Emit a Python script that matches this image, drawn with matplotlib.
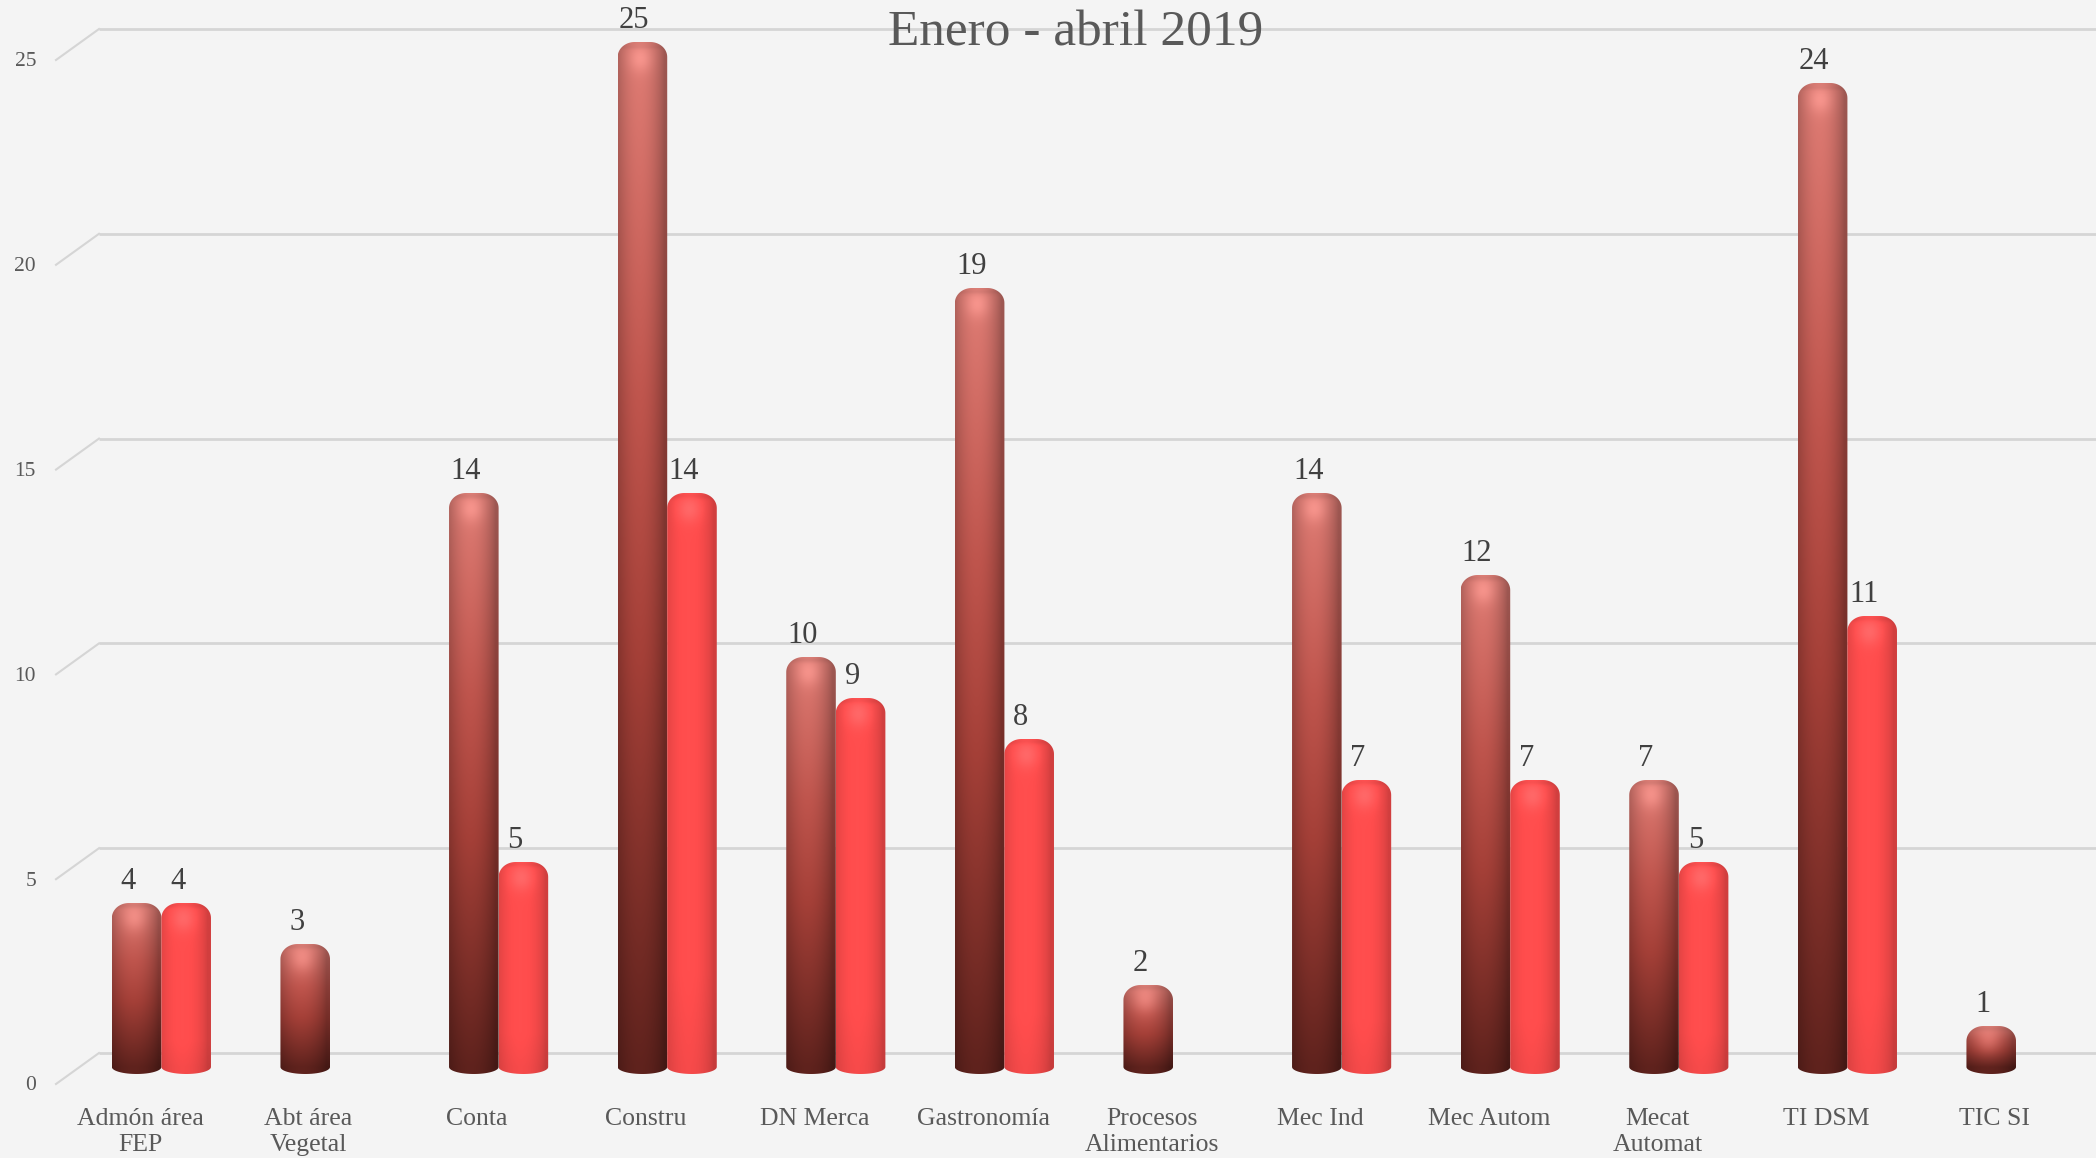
import numpy as np
import matplotlib
matplotlib.use("Agg")
import matplotlib.pyplot as plt
from matplotlib.path import Path
from matplotlib.patches import PathPatch

# ---------------- data ----------------
categories = ["Admón área\nFEP", "Abt área\nVegetal", "Conta", "Constru", "DN Merca",
              "Gastronomía", "Procesos\nAlimentarios", "Mec Ind", "Mec Autom",
              "Mecat\nAutomat", "TI DSM", "TIC SI"]
serie_1 = [4, 3, 14, 25, 10, 19, 2, 14, 12, 7, 24, 1]
serie_2 = [4, None, 5, 14, 9, 8, None, 7, 7, 5, 11, None]
y_ticks = [0, 5, 10, 15, 20, 25]
title = "Enero - abril 2019"

# ---------------- style ----------------
W, H, DPI = 2096, 1158, 100
FONT = "Liberation Serif"
BG = "#f4f4f4"
GRID = "#d5d5d5"
TXT = "#595959"
VAL = "#404040"

PX_X = 168.6      # pixels per category
PX_Y = 41.0       # pixels per unit (bars)
X0_PX = 140       # pixel x of first category
Y0_PX = 1067      # pixel y of bar zero level
BAR_W = 0.294

fig = plt.figure(figsize=(W / DPI, H / DPI), dpi=DPI)
fig.patch.set_facecolor(BG)

# ---------- back wall (gridlines) ----------
bg_l, bg_r, bg_t, bg_b = 99, W, 29, 1053
ax_bg = fig.add_axes([bg_l / W, 1 - bg_b / H, (bg_r - bg_l) / W, (bg_b - bg_t) / H])
ax_bg.set_xlim(0, 1)
ax_bg.set_ylim(0, 25)
ax_bg.axis("off")
gpx = (bg_b - bg_t) / 25.0
ax_w = bg_r - bg_l
for t in y_ticks:
    ax_bg.plot([0, 1], [t, t], color=GRID, lw=2.0, clip_on=False, solid_capstyle="butt")
    ax_bg.plot([-43 / ax_w, 0], [t - 31 / gpx, t], color=GRID, lw=1.5, clip_on=False)
    ax_bg.text(-63 / ax_w, t - 33 / gpx, str(t), ha="right", va="center",
               fontsize=15.5, color=TXT, family=FONT, clip_on=False)

# ---------- bars ----------
ax = fig.add_axes([0, 0, 1, 1])
ax.set_xlim(-X0_PX / PX_X, (W - X0_PX) / PX_X)
ax.set_ylim(-(H - Y0_PX) / PX_Y, Y0_PX / PX_Y)
ax.axis("off")
ax.patch.set_alpha(0)


def lerp_colors(stops, t):
    pos = np.array([s[0] for s in stops])
    cols = np.array([s[1] for s in stops])
    out = np.empty(t.shape + (3,))
    for c in range(3):
        out[..., c] = np.interp(t, pos, cols[:, c])
    return out


def cylinder(xc, w, h, kind):
    x0, x1 = xc - w / 2, xc + w / 2
    rx = min(17 / PX_X, w / 2)
    ry = min(15 / PX_Y, h / 2)
    eb = 7 / PX_Y
    verts = []
    for a in np.linspace(np.pi, 2 * np.pi, 30):
        verts.append((xc + (w / 2) * np.cos(a), eb * np.sin(a)))
    verts.append((x1, h - ry))
    for a in np.linspace(0, np.pi / 2, 20):
        verts.append((x1 - rx + rx * np.cos(a), h - ry + ry * np.sin(a)))
    for a in np.linspace(np.pi / 2, np.pi, 20):
        verts.append((x0 + rx + rx * np.cos(a), h - ry + ry * np.sin(a)))
    verts.append((x0, 0))
    verts.append(verts[0])
    path = Path(verts, closed=True)
    patch = PathPatch(path, facecolor="none", edgecolor="none")
    ax.add_patch(patch)

    nx, ny = 90, 300
    u = np.linspace(0, 1, nx)
    yy = np.linspace(h, -eb, ny)            # rows top -> bottom
    vf = np.clip(yy / h, 0, 1)[:, None] * np.ones((1, nx))
    theta = (u - 0.5) * np.pi
    c = np.clip(np.cos(theta + 0.22), 0, 1)
    if kind == 1:
        base = lerp_colors([(0.0, (0.36, 0.13, 0.11)),
                            (0.40, (0.62, 0.24, 0.21)),
                            (0.65, (0.72, 0.32, 0.29)),
                            (1.0, (0.84, 0.47, 0.44))], vf)
        shade = 0.74 + 0.30 * c ** 0.8
        img = base * shade[None, :, None]
    else:
        base = np.ones((ny, nx, 3)) * np.array([1.0, 0.30, 0.30])
        shade = 0.82 + 0.20 * c ** 0.7
        img = base * shade[None, :, None]
        # slightly darker near the foot
        foot = np.clip(1 - yy / max(h, 1e-6) * 6, 0, 1)[:, None]
        img = img * (1 - 0.05 * foot[..., None])
    # soft dome highlight
    dy = (yy[:, None] - (h - ry * 1.0)) / (ry * 0.9)
    dx = (u[None, :] - 0.45) / 0.25
    hl = np.exp(-(dx ** 2 + dy ** 2))
    img = img + 0.10 * hl[..., None]
    # rim at top
    rim = np.exp(-((yy[:, None] - (h - 2 / PX_Y)) / (3 / PX_Y)) ** 2) * np.ones((1, nx))
    img = img * (1 - 0.08 * rim[..., None])
    img = np.clip(img, 0, 1)
    im = ax.imshow(img, extent=[x0, x1, -eb, h], aspect="auto",
                   interpolation="bilinear", zorder=3)
    im.set_clip_path(patch)


x = np.arange(len(categories))
pos1 = x - 0.02
pos2 = pos1 + BAR_W
v1 = np.array([np.nan if v is None else v for v in serie_1], dtype=float)
v2 = np.array([np.nan if v is None else v for v in serie_2], dtype=float)

bars1 = ax.bar(pos1, np.nan_to_num(v1), width=BAR_W, alpha=0)
bars2 = ax.bar(pos2, np.nan_to_num(v2), width=BAR_W, alpha=0)

for bars, vals, kind in [(bars1, v1, 1), (bars2, v2, 2)]:
    for b, v in zip(bars, vals):
        if np.isnan(v):
            continue
        xc = b.get_x() + b.get_width() / 2
        cylinder(xc, b.get_width(), b.get_height(), kind)
        ax.annotate(f"{int(v)}", (xc, v), xytext=(-6, 15.5), textcoords="offset points",
                    ha="center", va="center", fontsize=22, color=VAL, family=FONT,
                    zorder=5)

for i, lab in zip(x, categories):
    ax.text(i, -1.0, lab, ha="center", va="top", fontsize=18.5, color=TXT,
            family=FONT, linespacing=1.25)

fig.text(1076 / W, 1 - 33 / H, title, ha="center", va="center", fontsize=37,
         color=TXT, family=FONT)

fig.savefig("out.png", dpi=DPI, facecolor=BG)
